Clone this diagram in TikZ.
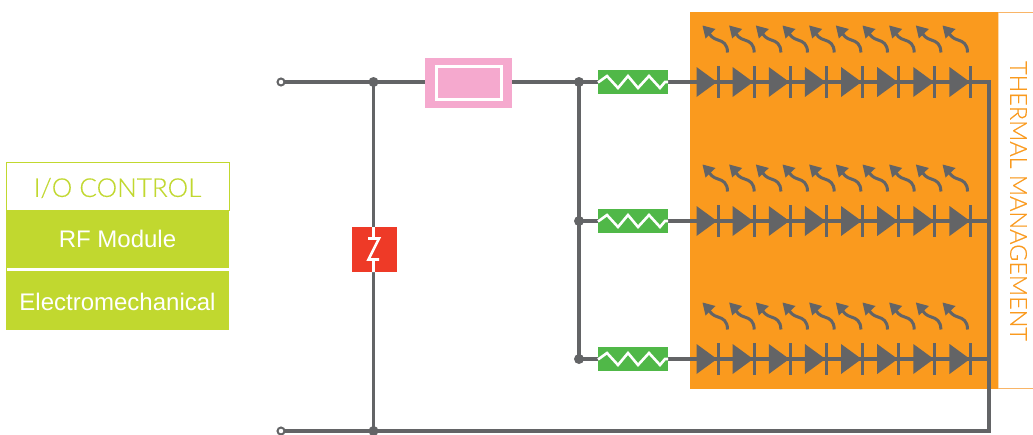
\documentclass[tikz,border=0pt]{standalone}
\usepackage{fontspec}
\setmainfont{Liberation Sans}
\newfontfamily\lightf[FakeBold=0.25]{Lato Light}
\definecolor{wire}{HTML}{636466}
\definecolor{lime}{HTML}{C1D82F}
\definecolor{amber}{HTML}{FA9A1E}
\definecolor{amberlt}{HTML}{F9B567}
\definecolor{amberpale}{HTML}{FCD9AE}
\definecolor{pinkbox}{HTML}{F5A9CE}
\definecolor{redbox}{HTML}{EE3A27}
\definecolor{greenbox}{HTML}{50B848}
\tikzset{
  box/.style={draw=none,inner sep=0pt,outer sep=0pt,anchor=north west},
  wireline/.style={draw=wire,line width=3.3pt},
  jdot/.style={circle,fill=wire,draw=none,inner sep=0pt,minimum size=10pt},
  term/.style={circle,fill=white,draw=wire,line width=2pt,inner sep=0pt,minimum size=7pt},
  whiteline/.style={draw=white,line width=2.6pt,line join=miter},
  resbox/.style={box,fill=greenbox,minimum width=70pt,minimum height=24pt},
}
\begin{document}
\begin{tikzpicture}[x=1pt,y=-1pt]
\useasboundingbox (0,0) rectangle (1033,434);
% I/O block
\node[box,draw=lime,line width=1pt,fill=white,minimum width=223pt,minimum height=48pt] (io) at (6,162.5) {};
\node[text=lime,inner sep=0pt] (iot) at (117.5,188) {\lightf\fontsize{26}{26}\selectfont I/O CONTROL};
\node[box,fill=lime,minimum width=223.5pt,minimum height=58pt] (rf) at (5.5,210) {};
\node[text=white,inner sep=0pt] (rft) at (117.5,239) {\fontsize{24}{24}\selectfont RF Module};
\node[box,fill=lime,minimum width=223.5pt,minimum height=62pt] (em) at (5.5,268) {};
\node[text=white,inner sep=0pt] (emt) at (117.5,302) {\fontsize{24}{24}\selectfont Electromechanical};
\fill[white] (7,268.2) rectangle (229,271);
% thermal
\fill[white] (998,12) rectangle (1033,389);
\draw[amberlt,line width=1.5pt] (998,12.7) -- (1033,12.7);
\draw[amberlt,line width=1.5pt] (998,388.5) -- (1033,388.5);
\draw[amberpale,line width=1.5pt] (998.7,13) -- (998.7,388);
\node[box,fill=amber,minimum width=308pt,minimum height=377pt] (hot) at (690,12) {};
\node[rotate=-90,text=amber,inner sep=0pt] (tm) at (1018.5,201) {\lightf\fontsize{23.4}{23.4}\selectfont THERMAL MANAGEMENT};
% coordinates
\coordinate (t1) at (281,82);
\coordinate (t2) at (281,431);
\coordinate (j1) at (373.5,82);
\coordinate (j2) at (373.5,431);
\coordinate (j3) at (579,82);
\coordinate (j4) at (579,221);
\coordinate (j5) at (579,359);
\coordinate (rb) at (989,431);
% wires
\node[box,fill=pinkbox,minimum width=87pt,minimum height=50pt] (fuse) at (425,58) {};
\node[box,fill=redbox,minimum width=45pt,minimum height=45pt] (zen) at (352,227) {};
\node[resbox] (r1) at (598,70) {};
\node[resbox] (r2) at (598,209) {};
\node[resbox] (r3) at (598,347) {};
\draw[wireline] (t1) -- (fuse.west |- t1);
\draw[wireline] (fuse.east |- t1) -- (r1.west);
\draw[wireline] (j1) -- (zen.north -| j1);
\draw[wireline] (zen.south -| j1) -- (j2);
\draw[wireline] (t2) -- (rb);
\draw[wireline] (j3) -- (j5);
\draw[wireline] (j4) -- (r2.west);
\draw[wireline] (j5) -- (r3.west);
\draw[wireline] (r1.east) -- (r1.east -| rb) -- (rb) -- +(0,1.65);
\draw[wireline] (r2.east) -- (r2.east -| rb);
\draw[wireline] (r3.east) -- (r3.east -| rb);
\node[term] at (t1) {};
\node[term] at (t2) {};
\foreach \c in {j1,j2,j3,j4,j5} \node[jdot] at (\c) {};
% fuse inner
\draw[white,line width=2.5pt] (436.5,66.5) rectangle (501.5,99.5);
% zener
\draw[whiteline] (373.5,227) -- (373.5,238.5) (368,238.5) -- (379,238.5) -- (368.5,259.5) -- (379,259.5) (373.5,259.5) -- (373.5,272);
% resistors
\foreach \yy in {82,221,359} {
  \draw[whiteline] (598,\yy+.5) -- (607,\yy-6) -- (618,\yy+6) -- (628,\yy-6) -- (638,\yy+6) -- (649,\yy-6) -- (660,\yy+6) -- (665,\yy) -- (668,\yy);
  % diodes
  \foreach \i in {0,...,7} {
    \pgfmathsetmacro{\dx}{696.5+36.14*\i}
    \fill[wire] (\dx,\yy-15) -- (\dx+20.5,\yy) -- (\dx,\yy+15) -- cycle;
    \fill[wire] (\dx+20,\yy-16) rectangle (\dx+23,\yy+16);
  }
  % emitted light arrows
  \foreach \i in {0,...,9} {
    \pgfmathsetmacro{\ax}{26.67*\i}
    \begin{scope}[shift={(\ax,\yy-82)}]
      \draw[wire,line width=3pt] (727.5,52.5) .. controls (727.5,44) and (723,41.5) .. (718,40) .. controls (713,38.5) and (710,36) .. (708,31);
      \fill[wire] (702.5,25.5) -- (715.5,29) -- (705.5,38.5) -- cycle;
    \end{scope}
  }
}
\end{tikzpicture}
\end{document}
